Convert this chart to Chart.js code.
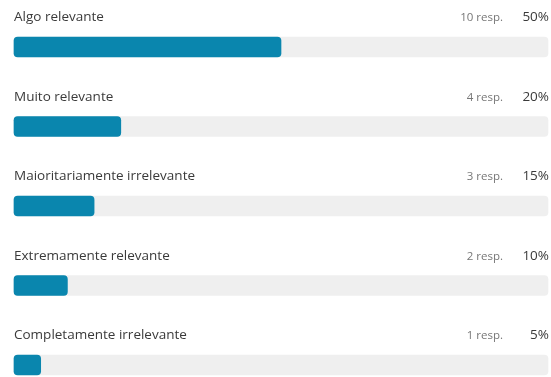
<!DOCTYPE html>
<html>
<head>
<meta charset="utf-8">
<script src="https://cdn.jsdelivr.net/npm/chart.js@4"></script>
<style>
  html, body { margin: 0; padding: 0; background: #fff; }
  #wrap { width: 551px; height: 377px; }
</style>
</head>
<body>
<div id="wrap"><canvas id="relevanceChart"></canvas></div>
<script>
// Answer options and counts
const categories = ['Algo relevante', 'Muito relevante', 'Maioritariamente irrelevante', 'Extremamente relevante', 'Completamente irrelevante'];
const responses = [10, 4, 3, 2, 1];
const percents = [50, 20, 15, 10, 5];
const trackValues = [100, 100, 100, 100, 100];

// Draws the option name above each bar and the count/percentage on the right
const rowLabels = {
    id: 'rowLabels',
    afterDatasetsDraw(chart) {
        const ctx = chart.ctx;
        const xScale = chart.scales.x;
        const meta = chart.getDatasetMeta(0);
        ctx.save();
        ctx.textBaseline = 'alphabetic';
        meta.data.forEach((bar, i) => {
            const y = bar.y - 26;
            ctx.fillStyle = '#3a3a3a';
            ctx.font = '13.5px "Open Sans", sans-serif';
            ctx.textAlign = 'left';
            ctx.fillText(categories[i], xScale.left, y);

            ctx.textAlign = 'right';
            ctx.fillText(percents[i] + '%', xScale.right + 1, y);

            ctx.fillStyle = '#777';
            ctx.font = '11.5px "Open Sans", sans-serif';
            ctx.fillText(responses[i] + ' resp.', xScale.right - 45, y);
        });
        ctx.restore();
    }
};

const ctx = document.getElementById('relevanceChart').getContext('2d');
new Chart(ctx, {
    type: 'bar',
    data: {
        labels: categories,
        datasets: [{
            data: percents,
            backgroundColor: '#0A86AE',
            borderRadius: 4,
            borderSkipped: false,
            barThickness: 20,
            grouped: false,
            clip: false,
            order: 1
        }, {
            data: trackValues,
            backgroundColor: '#EFEFEF',
            borderRadius: 4,
            borderSkipped: false,
            barThickness: 20,
            grouped: false,
            clip: false,
            order: 2
        }]
    },
    options: {
        indexAxis: 'y',
        responsive: true,
        maintainAspectRatio: false,
        animation: false,
        layout: {
            padding: { left: 14, right: 3, top: 47, bottom: 12 }
        },
        scales: {
            x: { min: 0, max: 100, display: false },
            y: { display: false, offset: false }
        },
        plugins: {
            legend: { display: false },
            tooltip: { enabled: false }
        }
    },
    plugins: [rowLabels]
});
</script>
</body>
</html>
